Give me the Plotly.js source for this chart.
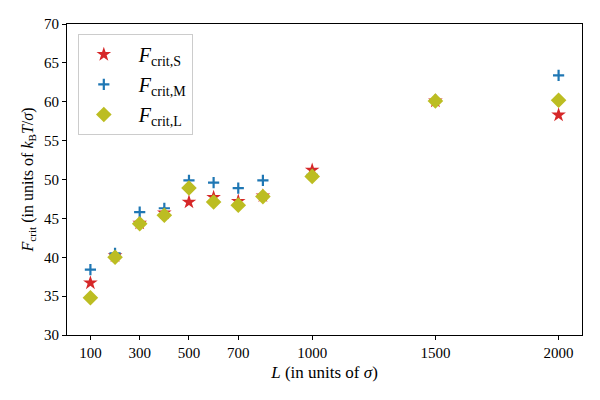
<!DOCTYPE html>
<html>
<head>
<meta charset="utf-8">
<script src="https://cdn.plot.ly/plotly-3.0.1.min.js"></script>
<style>html,body{margin:0;padding:0;background:#fff;}#chart{width:600px;height:400px;}</style>
</head>
<body>
<div id="chart"></div>
<script>
const L = [100, 200, 300, 400, 500, 600, 700, 800, 1000, 1500, 2000];
const Fs = [36.7, 40.2, 44.4, 45.7, 47.1, 47.7, 47.2, 47.9, 51.2, 60.1, 58.3];
const Fm = [38.4, 40.5, 45.8, 46.3, 49.9, 49.6, 48.9, 49.9, 50.6, 60.2, 63.4];
const Fl = [34.8, 40.0, 44.3, 45.4, 48.9, 47.1, 46.7, 47.8, 50.4, 60.1, 60.2];
const xTicks = [100, 300, 500, 700, 1000, 1500, 2000];
const yTicks = [30, 35, 40, 45, 50, 55, 60, 65, 70];

const font = "Liberation Serif, DejaVu Serif, serif";
const traces = [
  {x: L, y: Fs, mode: 'markers', type: 'scatter', name: '  <i>F</i><sub>crit,S</sub>', legendgroup: 'a',
   marker: {symbol: 'star', size: 11, color: '#d62728', line: {width: 0}}},
  {x: L, y: Fm, mode: 'markers', type: 'scatter', name: '  <i>F</i><sub>crit,M</sub>', legendgroup: 'b',
   marker: {symbol: 'cross-thin', size: 8, color: '#1f77b4', line: {width: 2.2, color: '#1f77b4'}}},
  {x: L, y: Fl, mode: 'markers', type: 'scatter', name: '  <i>F</i><sub>crit,L</sub>', legendgroup: 'c',
   marker: {symbol: 'diamond', size: 12, color: '#bcbd22', line: {width: 0}}}
];
const layout = {
  width: 600, height: 400,
  margin: {l: 67, r: 18, t: 24, b: 65},
  paper_bgcolor: '#fff', plot_bgcolor: '#fff',
  font: {family: font, size: 15, color: '#000'},
  showlegend: true,
  legend: {x: 0.021, y: 0.968, xanchor: 'left', yanchor: 'top',
           bordercolor: '#cccccc', borderwidth: 1, bgcolor: 'rgba(255,255,255,0.8)',
           font: {family: font, size: 20}, itemwidth: 40, tracegroupgap: 1},
  xaxis: {range: [5, 2095], tickvals: xTicks, ticktext: xTicks.map(String),
          showgrid: false, zeroline: false, showline: true, mirror: true, linecolor: '#000', linewidth: 1,
          ticks: 'outside', ticklen: 4, tickcolor: '#000',
          tickfont: {family: font, size: 15},
          title: {text: '<i>L</i> (in units of <i>σ</i>)', font: {family: font, size: 17}, standoff: 6}},
  yaxis: {range: [30, 70], tickvals: yTicks, ticktext: yTicks.map(String),
          showgrid: false, zeroline: false, showline: true, mirror: true, linecolor: '#000', linewidth: 1,
          ticks: 'outside', ticklen: 4, tickcolor: '#000',
          tickfont: {family: font, size: 15},
          title: {text: '<i>F</i><sub>crit</sub> (in units of <i>k</i><sub>B</sub><i>T</i>/<i>σ</i>)', font: {family: font, size: 16}, standoff: 6}}
};
Plotly.newPlot('chart', traces, layout, {displayModeBar: false, staticPlot: true});
</script>
</body>
</html>
